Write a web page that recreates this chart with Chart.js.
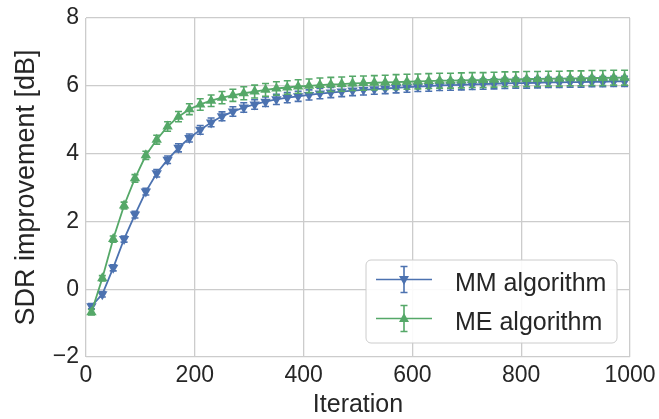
<!DOCTYPE html>
<html>
<head>
<meta charset="utf-8">
<script src="https://cdn.jsdelivr.net/npm/chart.js@4.4.0/dist/chart.umd.min.js"></script>
<style>
  html, body { margin: 0; padding: 0; background: #fff; }
  #wrap { width: 659px; height: 419px; }
</style>
</head>
<body>
<div id="wrap"><canvas id="chart"></canvas></div>
<script>
// Data
const iterations = [10, 30, 50, 70, 90, 110, 130, 150, 170, 190,
  210, 230, 250, 270, 290, 310, 330, 350, 370, 390,
  410, 430, 450, 470, 490, 510, 530, 550, 570, 590,
  610, 630, 650, 670, 690, 710, 730, 750, 770, 790,
  810, 830, 850, 870, 890, 910, 930, 950, 970, 990]

const mmValues = [-0.50, -0.15, 0.63, 1.48, 2.20, 2.88, 3.42, 3.82, 4.17, 4.46,
  4.70, 4.92, 5.10, 5.24, 5.36, 5.45, 5.53, 5.60, 5.65, 5.69,
  5.73, 5.77, 5.80, 5.83, 5.86, 5.88, 5.90, 5.92, 5.94, 5.96,
  5.98, 5.99, 6.01, 6.02, 6.03, 6.04, 6.05, 6.06, 6.07, 6.08,
  6.08, 6.09, 6.10, 6.10, 6.11, 6.11, 6.12, 6.12, 6.13, 6.13]

const meValues = [-0.68, 0.32, 1.48, 2.47, 3.27, 3.95, 4.41, 4.80, 5.09, 5.31,
  5.45, 5.56, 5.65, 5.72, 5.78, 5.83, 5.88, 5.92, 5.95, 5.98,
  6.00, 6.02, 6.04, 6.05, 6.07, 6.08, 6.09, 6.10, 6.11, 6.12,
  6.13, 6.14, 6.15, 6.15, 6.16, 6.17, 6.17, 6.18, 6.19, 6.19,
  6.20, 6.20, 6.21, 6.21, 6.22, 6.22, 6.23, 6.23, 6.24, 6.24]

// half-length of the error bars
const mmErrors = [0.08, 0.08, 0.09, 0.09, 0.10, 0.10, 0.11, 0.11, 0.12, 0.12,
  0.13, 0.13, 0.13, 0.14, 0.14, 0.14, 0.14, 0.15, 0.15, 0.15,
  0.15, 0.15, 0.15, 0.15, 0.15, 0.15, 0.15, 0.15, 0.15, 0.15,
  0.15, 0.15, 0.15, 0.15, 0.15, 0.15, 0.15, 0.15, 0.15, 0.15,
  0.15, 0.15, 0.15, 0.15, 0.15, 0.15, 0.15, 0.15, 0.15, 0.15]

const meErrors = [0.08, 0.08, 0.09, 0.10, 0.11, 0.12, 0.13, 0.14, 0.15, 0.16,
  0.17, 0.17, 0.18, 0.18, 0.19, 0.19, 0.19, 0.20, 0.20, 0.20,
  0.20, 0.21, 0.21, 0.21, 0.21, 0.21, 0.21, 0.21, 0.22, 0.22,
  0.22, 0.22, 0.22, 0.22, 0.22, 0.22, 0.22, 0.22, 0.22, 0.22,
  0.22, 0.22, 0.22, 0.22, 0.22, 0.22, 0.22, 0.22, 0.22, 0.22]

const xTicks = [0, 200, 400, 600, 800, 1000]
const yTicks = [-2, 0, 2, 4, 6, 8]

const BLUE = "#4C72B0"
const GREEN = "#55A868"
const GRID = "#cccccc"
const TEXT = "#262626"
const FONT = "'Liberation Sans', Arial, sans-serif"

const toPoints = (vals) => iterations.map((it, i) => ({ x: it, y: vals[i] }))

// Vertical error bars with caps, drawn right after each dataset
const errorBars = {
  id: "errorBars",
  afterDatasetDraw(chart, args) {
    const ds = chart.data.datasets[args.index]
    if (!ds.errors) return
    const { ctx, scales: { x, y } } = chart
    ctx.save()
    ctx.strokeStyle = ds.borderColor
    ctx.lineWidth = 1.6
    ds.data.forEach((p, i) => {
      const px = x.getPixelForValue(p.x)
      const top = y.getPixelForValue(p.y + ds.errors[i])
      const bot = y.getPixelForValue(p.y - ds.errors[i])
      ctx.beginPath()
      ctx.moveTo(px, top); ctx.lineTo(px, bot)
      ctx.moveTo(px - 3.5, top); ctx.lineTo(px + 3.5, top)
      ctx.moveTo(px - 3.5, bot); ctx.lineTo(px + 3.5, bot)
      ctx.stroke()
    })
    ctx.restore()
  }
}

// matplotlib-style legend box in the lower right of the plot
const boxLegend = {
  id: "boxLegend",
  afterDraw(chart) {
    const { ctx, chartArea } = chart
    const w = 251, h = 83
    const left = chartArea.right - 13 - w
    const top = chartArea.bottom - 14 - h
    ctx.save()
    ctx.beginPath()
    ctx.roundRect(left, top, w, h, 5)
    ctx.fillStyle = "rgba(255,255,255,0.9)"
    ctx.fill()
    ctx.strokeStyle = GRID
    ctx.lineWidth = 1
    ctx.stroke()

    const entries = [
      { label: "MM algorithm", color: BLUE, rot: Math.PI, y: top + 19.5 },
      { label: "ME algorithm", color: GREEN, rot: 0, y: top + 58.5 }
    ]
    entries.forEach(e => {
      const x0 = left + 10, x1 = left + 66, xm = (x0 + x1) / 2
      ctx.strokeStyle = e.color
      ctx.fillStyle = e.color
      ctx.lineWidth = 1.6
      ctx.beginPath()
      ctx.moveTo(x0, e.y); ctx.lineTo(x1, e.y)
      ctx.moveTo(xm, e.y - 13); ctx.lineTo(xm, e.y + 13)
      ctx.moveTo(xm - 3.5, e.y - 13); ctx.lineTo(xm + 3.5, e.y - 13)
      ctx.moveTo(xm - 3.5, e.y + 13); ctx.lineTo(xm + 3.5, e.y + 13)
      ctx.stroke()
      ctx.save()
      ctx.translate(xm, e.y)
      ctx.rotate(e.rot)
      ctx.beginPath()
      ctx.moveTo(0, -5.5); ctx.lineTo(5, 3.5); ctx.lineTo(-5, 3.5)
      ctx.closePath()
      ctx.fill()
      ctx.restore()
      ctx.fillStyle = TEXT
      ctx.font = "25px " + FONT
      ctx.textBaseline = "middle"
      ctx.fillText(e.label, left + 89, e.y + 5)
    })
    ctx.restore()
  }
}

const ctx = document.getElementById("chart").getContext("2d")

new Chart(ctx, {
  type: "line",
  data: {
    datasets: [
      {
        label: "MM algorithm",
        data: toPoints(mmValues),
        errors: mmErrors,
        borderColor: BLUE,
        backgroundColor: BLUE,
        borderWidth: 1.8,
        pointStyle: "triangle",
        pointRotation: 180,
        pointRadius: 6,
        pointBorderWidth: 0,
        tension: 0,
        order: 2
      },
      {
        label: "ME algorithm",
        data: toPoints(meValues),
        errors: meErrors,
        borderColor: GREEN,
        backgroundColor: GREEN,
        borderWidth: 1.8,
        pointStyle: "triangle",
        pointRadius: 6,
        pointBorderWidth: 0,
        tension: 0,
        order: 1
      }
    ]
  },
  options: {
    responsive: true,
    maintainAspectRatio: false,
    animation: false,
    layout: { padding: { top: 18, right: 29, left: 0, bottom: 0 } },
    plugins: {
      legend: { display: false },
      tooltip: { enabled: false }
    },
    scales: {
      x: {
        type: "linear",
        min: 0,
        max: 1000,
        afterBuildTicks: (scale) => { scale.ticks = xTicks.map(v => ({ value: v })) },
        afterFit: (scale) => {
          scale.height = 62
          scale.paddingLeft = 0
          scale.paddingRight = 0
        },
        grid: { color: GRID, lineWidth: 1.3, drawTicks: false },
        border: { display: false },
        ticks: {
          color: TEXT,
          padding: 5,
          maxRotation: 0,
          font: { family: FONT, size: 23 },
          callback: (v) => String(v)
        },
        title: {
          display: true,
          text: "Iteration",
          color: TEXT,
          font: { family: FONT, size: 25, lineHeight: 1.1 },
          padding: { top: 0, bottom: 0 }
        }
      },
      y: {
        min: -2,
        max: 8,
        afterBuildTicks: (scale) => { scale.ticks = yTicks.map(v => ({ value: v })) },
        afterFit: (scale) => {
          scale.width = 86
          scale.paddingTop = 0
          scale.paddingBottom = 0
        },
        grid: { color: GRID, lineWidth: 1.3, drawTicks: false },
        border: { display: false },
        ticks: {
          color: TEXT,
          padding: 7,
          font: { family: FONT, size: 23 },
          callback: (v) => String(v).replace("-", "\u2212")
        },
        title: {
          display: true,
          text: "SDR improvement [dB]",
          color: TEXT,
          font: { family: FONT, size: 27 },
          padding: { top: 10, bottom: 0 }
        }
      }
    }
  },
  plugins: [errorBars, boxLegend]
})
</script>
</body>
</html>
